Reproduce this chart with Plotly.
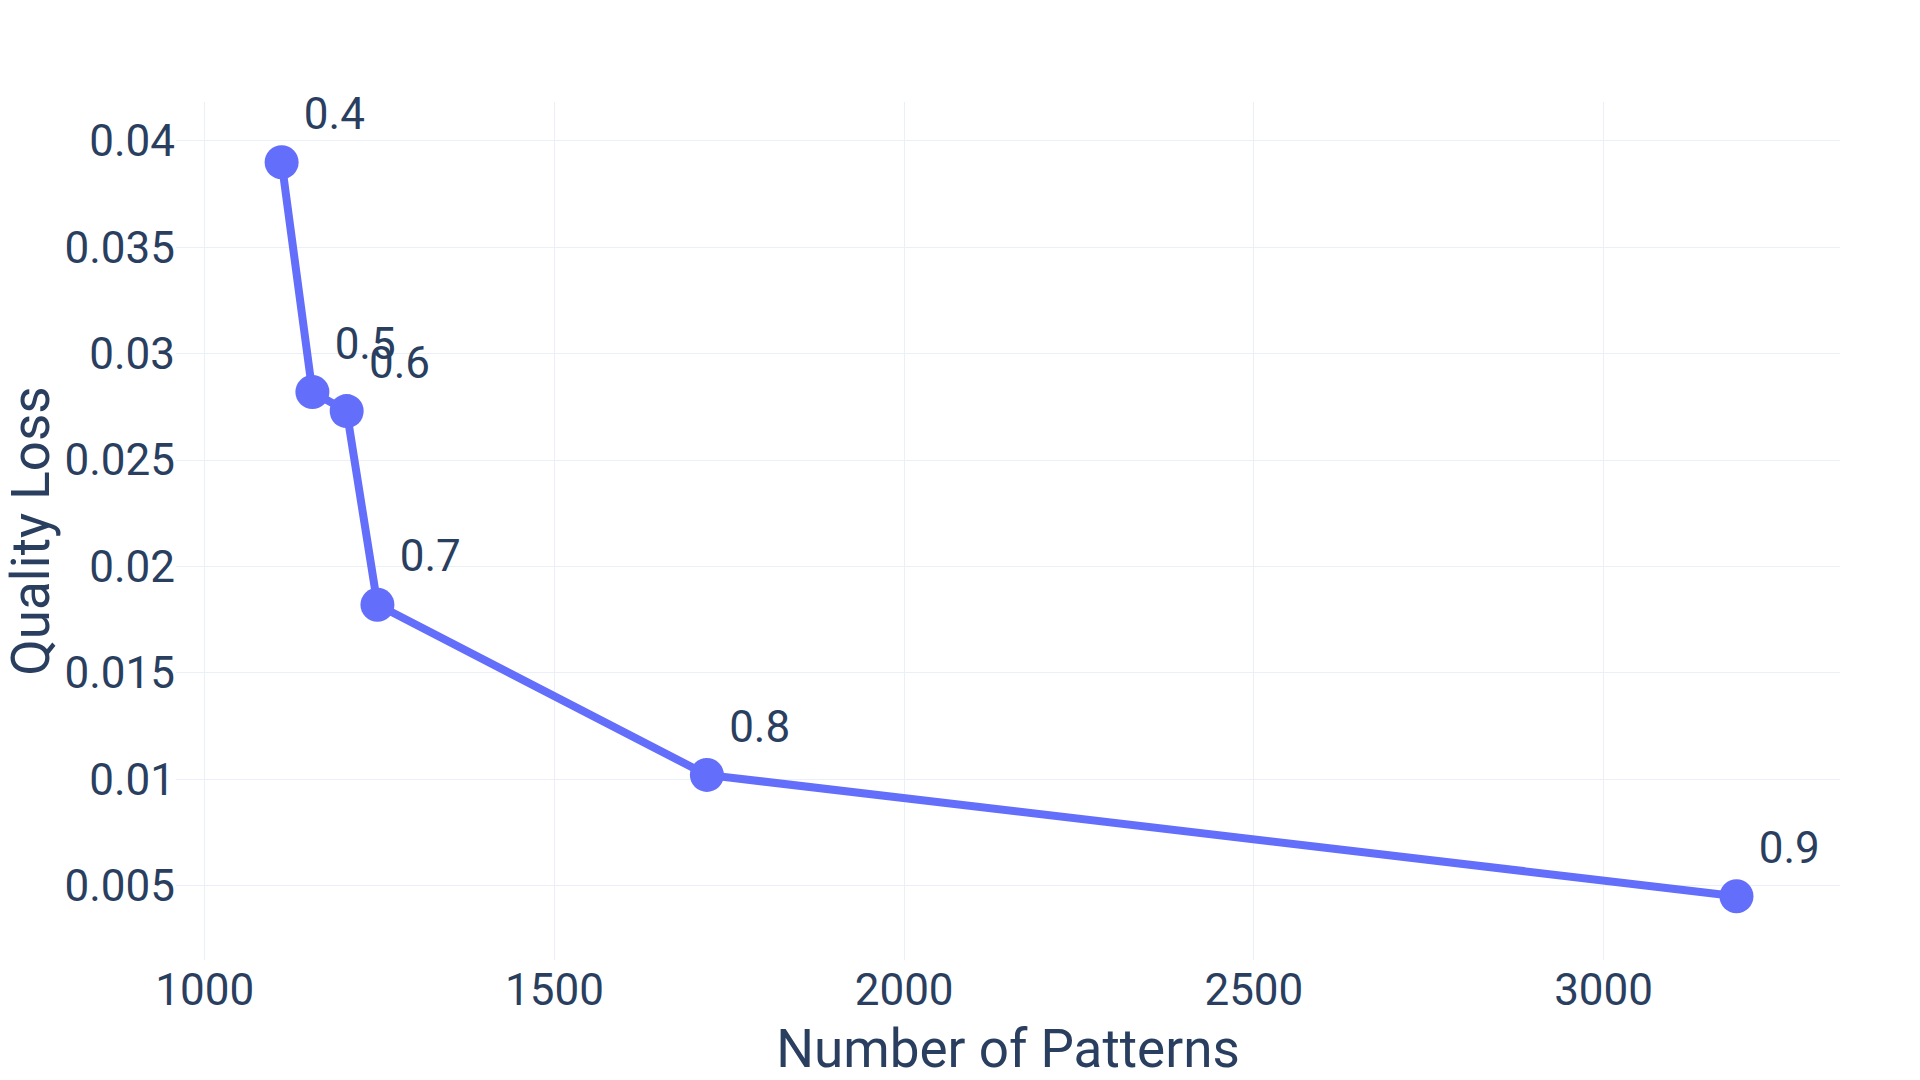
import plotly.graph_objects as go

patterns = [1110, 1154, 1203, 1247, 1718, 3190]
quality_loss = [0.0390, 0.0282, 0.0273, 0.0182, 0.0102, 0.0045]
labels = ["0.4", "0.5", "0.6", "0.7", "0.8", "0.9"]

fig = go.Figure(go.Scatter(
    x=patterns, y=quality_loss, text=labels,
    mode="lines+markers+text", textposition="top right",
    line=dict(color="#636efa", width=8),
    marker=dict(color="#636efa", size=34),
    textfont=dict(size=44, color="#2a3f5f"),
    cliponaxis=False,
))
fig.update_layout(
    template="plotly_white",
    width=1920, height=1080,
    margin=dict(l=175, r=80, t=102, b=117),
    font=dict(family="Roboto", size=44, color="#2a3f5f"),
    xaxis=dict(title=dict(text="Number of Patterns", font=dict(size=53)), range=[959, 3338],
               tickfont=dict(size=44)),
    yaxis=dict(title=dict(text="Quality Loss", font=dict(size=53)), range=[0.0015, 0.04183],
               tickfont=dict(size=44), dtick=0.005),
    showlegend=False,
)
fig.write_html("out.html")
